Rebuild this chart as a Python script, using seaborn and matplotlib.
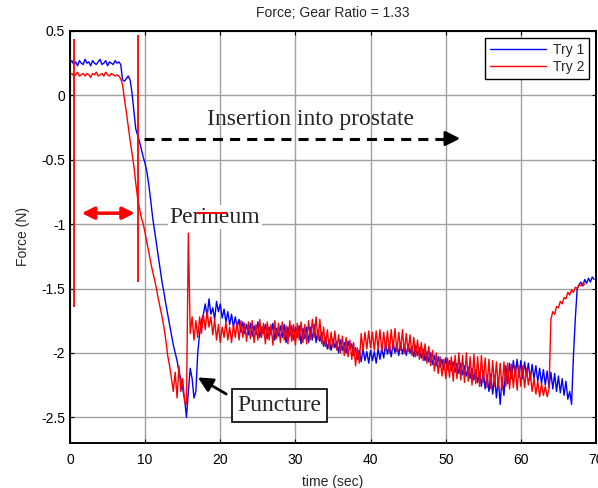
import numpy as np
import pandas as pd
import matplotlib
matplotlib.use('Agg')
import matplotlib.pyplot as plt
import seaborn as sns

# force samples, one every 0.25 s (8 values = 2 s per row)
try1 = [
    0.25, 0.27, 0.24, 0.26, 0.23, 0.27, 0.25, 0.24,
    0.28, 0.25, 0.26, 0.23, 0.27, 0.25, 0.24, 0.26,
    0.28, 0.24, 0.25, 0.27, 0.23, 0.26, 0.25, 0.24,
    0.27, 0.25, 0.26, 0.24, 0.12, 0.11, 0.13, 0.15,
    0.12, 0.02, -0.12, -0.26, -0.31, -0.36, -0.42, -0.48,
    -0.53, -0.6, -0.7, -0.82, -0.95, -1.05, -1.15, -1.25,
    -1.35, -1.45, -1.53, -1.62, -1.7, -1.78, -1.86, -1.94,
    -2.0, -2.06, -2.15, -2.2, -2.28, -2.36, -2.5, -2.3,
    -2.12, -2.2, -2.35, -2.3, -2.0, -1.85, -1.75, -1.7,
    -1.62, -1.72, -1.58, -1.7, -1.65, -1.74, -1.6, -1.68,
    -1.62, -1.73, -1.66, -1.76, -1.68, -1.78, -1.7, -1.8,
    -1.72, -1.8, -1.74, -1.84, -1.76, -1.85, -1.78, -1.86,
    -1.77, -1.87, -1.79, -1.86, -1.76, -1.88, -1.8, -1.85,
    -1.78, -1.89, -1.8, -1.86, -1.77, -1.9, -1.81, -1.87,
    -1.79, -1.88, -1.78, -1.92, -1.8, -1.87, -1.79, -1.9,
    -1.8, -1.88, -1.79, -1.93, -1.81, -1.89, -1.8, -1.92,
    -1.8, -1.9, -1.78, -1.92, -1.82, -1.91, -1.84, -1.95,
    -1.88, -1.97, -1.9, -1.98, -1.89, -1.96, -1.91, -2.0,
    -1.9, -1.98, -1.92, -2.0, -1.91, -1.97, -1.93, -2.02,
    -1.96, -2.05, -1.98, -2.07, -1.97, -2.06, -1.99, -2.08,
    -1.98, -2.06, -1.99, -2.08, -1.97, -2.05, -1.96, -2.04,
    -1.93, -2.01, -1.94, -2.03, -1.92, -2.0, -1.93, -2.02,
    -1.92, -2.01, -1.94, -2.02, -1.93, -2.0, -1.95, -2.03,
    -1.94, -2.02, -1.96, -2.04, -1.97, -2.06, -1.99, -2.07,
    -2.0, -2.09, -2.02, -2.1, -2.03, -2.11, -2.05, -2.13,
    -2.04, -2.13, -2.06, -2.14, -2.07, -2.15, -2.08, -2.16,
    -2.08, -2.17, -2.1, -2.18, -2.11, -2.2, -2.12, -2.21,
    -2.13, -2.23, -2.15, -2.26, -2.14, -2.28, -2.17, -2.3,
    -2.16, -2.32, -2.18, -2.35, -2.2, -2.4, -2.19, -2.33,
    -2.1, -2.24, -2.08, -2.2, -2.06, -2.18, -2.05, -2.19,
    -2.06, -2.2, -2.07, -2.18, -2.08, -2.21, -2.09, -2.2,
    -2.1, -2.22, -2.12, -2.24, -2.13, -2.25, -2.14, -2.27,
    -2.15, -2.28, -2.16, -2.3, -2.18, -2.31, -2.2, -2.33,
    -2.22, -2.36, -2.3, -2.4, -2.02, -1.73, -1.5, -1.47,
    -1.45, -1.48, -1.43, -1.46, -1.42, -1.45, -1.41, -1.43,
]

try2 = [
    0.16, 0.17, 0.15, 0.16, 0.18, 0.15, 0.16, 0.17,
    0.15, 0.17, 0.16, 0.14, 0.17, 0.16, 0.18, 0.15,
    0.16, 0.17, 0.15, 0.18, 0.16, 0.15, 0.17, 0.16,
    0.15, 0.16, 0.15, 0.13, 0.08, -0.03, -0.13, -0.24,
    -0.35, -0.45, -0.55, -0.68, -0.8, -0.88, -0.95, -1.0,
    -1.07, -1.15, -1.22, -1.3, -1.37, -1.43, -1.5, -1.58,
    -1.65, -1.72, -1.8, -1.9, -2.02, -2.1, -2.2, -2.3,
    -2.15, -2.35, -2.1, -2.3, -2.2, -2.38, -2.4, -1.07,
    -1.85, -1.72, -1.9, -1.75, -1.88, -1.72, -1.85, -1.7,
    -1.82, -1.68, -1.8, -1.72, -1.86, -1.74, -1.9, -1.78,
    -1.92, -1.8, -1.88, -1.76, -1.9, -1.8, -1.92, -1.78,
    -1.88, -1.76, -1.9, -1.75, -1.88, -1.77, -1.91, -1.76,
    -1.89, -1.75, -1.92, -1.78, -1.9, -1.74, -1.88, -1.77,
    -1.93, -1.76, -1.9, -1.78, -1.94, -1.75, -1.89, -1.77,
    -1.92, -1.76, -1.9, -1.79, -1.93, -1.75, -1.91, -1.78,
    -1.94, -1.77, -1.9, -1.76, -1.92, -1.78, -1.93, -1.75,
    -1.9, -1.74, -1.88, -1.72, -1.9, -1.74, -1.93, -1.8,
    -1.95, -1.82, -1.97, -1.84, -1.96, -1.83, -1.98, -1.86,
    -2.0, -1.87, -2.02, -1.88, -2.03, -1.9, -2.05, -1.92,
    -2.1, -1.96, -2.08, -1.85, -1.98, -1.84, -1.97, -1.83,
    -1.96, -1.84, -1.98, -1.83, -1.97, -1.82, -1.99, -1.84,
    -1.98, -1.83, -2.0, -1.82, -1.97, -1.81, -1.99, -1.84,
    -1.98, -1.82, -2.0, -1.85, -1.99, -1.86, -2.02, -1.88,
    -2.03, -1.9, -2.05, -1.92, -2.06, -1.93, -2.08, -1.95,
    -2.1, -1.98, -2.14, -2.0, -2.16, -2.03, -2.18, -2.05,
    -2.2, -2.04, -2.19, -2.03, -2.22, -2.02, -2.2, -2.0,
    -2.21, -2.02, -2.23, -2.0, -2.22, -2.03, -2.25, -2.01,
    -2.24, -2.03, -2.26, -2.02, -2.23, -2.04, -2.27, -2.05,
    -2.28, -2.06, -2.26, -2.07, -2.27, -2.08, -2.29, -2.07,
    -2.26, -2.08, -2.28, -2.09, -2.27, -2.1, -2.29, -2.1,
    -2.26, -2.1, -2.27, -2.12, -2.25, -2.15, -2.3, -2.2,
    -2.32, -2.22, -2.34, -2.24, -2.33, -2.26, -2.34, -2.28,
    -1.74, -1.68, -1.7, -1.64, -1.65, -1.6, -1.62, -1.57,
    -1.58, -1.53, -1.55, -1.51, -1.53, -1.49, -1.5, -1.47,
    -1.48, -1.46, -1.47,
]

dt = 0.25
time1 = np.arange(len(try1)) * dt
time2 = np.arange(len(try2)) * dt

xticks = [0, 10, 20, 30, 40, 50, 60, 70]
yticks = [0.5, 0, -0.5, -1, -1.5, -2, -2.5]
ytick_labels = ['0.5', '0', '-0.5', '-1', '-1.5', '-2', '-2.5']

# red marker lines at start / end of perineum phase
marker_t = [0.53, 9.0]
marker_top = [0.44, 0.47]
marker_bot = [-1.64, -1.45]

sns.set_style('ticks')
plt.rcParams['font.family'] = 'Liberation Sans'
plt.rcParams['axes.unicode_minus'] = False

fig = plt.figure(figsize=(5.98, 4.88), dpi=100)
ax = fig.add_axes([70/598, 45/488, 526/598, 412/488])

sns.lineplot(x=time1, y=try1, color='#0000ff', lw=1.0, label='Try 1',
             estimator=None, sort=False, ax=ax)
sns.lineplot(x=time2, y=try2, color='#ff0000', lw=1.0, label='Try 2',
             estimator=None, sort=False, ax=ax)
ax.vlines(marker_t, marker_bot, marker_top, color='#ff0000', lw=1.3)

ax.set_xlim(0, 70)
ax.set_ylim(-2.7, 0.5)
ax.set_xticks(xticks)
ax.set_yticks(yticks)
ax.set_yticklabels(ytick_labels)
ax.grid(True, color='#a0a0a0', lw=1.0)
ax.set_axisbelow(True)
ax.tick_params(direction='in', top=True, right=True, length=3, labelsize=10, colors='k')
ax.tick_params(axis='x', pad=7)
for s in ax.spines.values():
    s.set_color('k')
    s.set_linewidth(1.4)

ax.set_title('Force; Gear Ratio = 1.33', fontsize=10, pad=10)
ax.set_xlabel('time (sec)', fontsize=10, labelpad=6)
ax.set_ylabel('Force (N)', fontsize=10, labelpad=8)

leg = ax.legend(loc='upper right', fontsize=10, handlelength=4.0, labelspacing=0.25,
                handletextpad=0.5, borderpad=0.35, borderaxespad=0.5,
                fancybox=False, framealpha=1)
leg.get_frame().set_edgecolor('k')
leg.get_frame().set_linewidth(1.0)

# annotations
ax.plot([9.8, 50.5], [-0.335, -0.335], color='k', lw=2.2, dashes=(3.3, 2.3))
ax.annotate('', xy=(52.3, -0.335), xytext=(50.0, -0.335),
            arrowprops=dict(arrowstyle='-|>', color='k', lw=2, mutation_scale=22))
ax.text(32.0, -0.233, 'Insertion into prostate', family='Liberation Serif',
        fontsize=17, ha='center', va='baseline')

ax.annotate('', xy=(1.2, -0.915), xytext=(9.0, -0.915),
            arrowprops=dict(arrowstyle='<|-|>', color='#ff0000', lw=2.5, mutation_scale=18))
ax.text(19.3, -0.99, 'Perineum', family='Liberation Serif', fontsize=17,
        ha='center', va='baseline',
        bbox=dict(facecolor='white', edgecolor='none', pad=1))
ax.plot([16.9, 20.9], [-0.91, -0.91], color='#ff0000', lw=1.3, zorder=5)

ax.text(27.9, -2.41, 'Puncture', family='Liberation Serif', fontsize=17,
        ha='center', va='center',
        bbox=dict(facecolor='white', edgecolor='k', lw=1.2, pad=4))
ax.annotate('', xy=(16.7, -2.18), xytext=(21.1, -2.33),
            arrowprops=dict(arrowstyle='-|>', color='k', lw=2, mutation_scale=22))

fig.savefig('out.png', dpi=100)
